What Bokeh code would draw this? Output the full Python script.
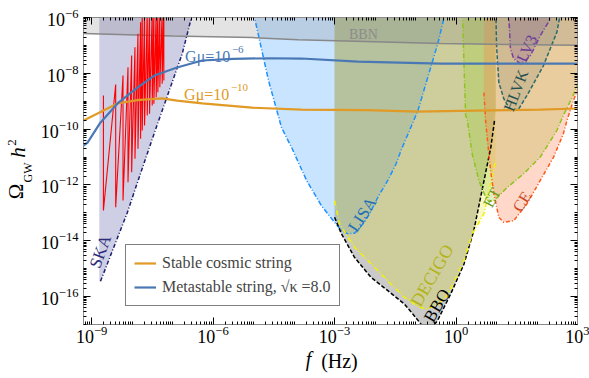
import numpy as np
from bokeh.plotting import figure
from bokeh.models import LogAxis, FixedTicker, Legend, LegendItem, Label
from bokeh.embed import file_html
from bokeh.resources import INLINE

SERIF = "Liberation Serif"

# ---------------- data (log10 of f [Hz] and log10 of Omega h^2) ----------------
x_lim = [-9.2, 3.0]
y_lim = [-17.0, -6.0]
x_labeled = [-9, -6, -3, 0, 3]
y_labeled = [-16, -14, -12, -10, -8, -6]

bbn_logf = [-9.3, -7.0, -5.04, -3.9, -0.38, 3.1]
bbn_logo = [-6.57, -6.66, -6.72, -6.80, -6.93, -7.0]

ska_edge_logf = -8.81
ska_logf = [-8.78, -8.12, -7.90, -7.43, -6.76, -6.50]
ska_logo = [-15.45, -13.00, -12.05, -10.05, -7.29, -5.80]

red_logf = [-8.708, -8.405, -8.224, -8.101, -8.011, -7.929, -7.855, -7.790,
            -7.749, -7.692, -7.626, -7.569, -7.503, -7.462, -7.405, -7.364,
            -7.315, -7.257, -7.216]
red_top = [-8.795, -8.40, -8.078, -7.78, -7.362, -7.063, -6.584, -6.168,
           -5.8, -5.8, -5.8, -5.8, -5.8, -5.8, -5.8, -5.8, -5.8, -5.8, -5.8]
red_bot = [-12.915, -12.797, -12.557, -11.901, -11.543, -11.063, -10.704, -10.346,
           -10.049, -9.870, -9.511, -9.452, -9.153, -9.093, -8.854, -8.676,
           -8.497, -8.377, -8.258]

lisa_logf = [-5.00, -4.63, -4.31, -4.06, -3.69, -3.325, -3.0, -2.83, -2.67, -2.506,
             -2.26, -2.096, -1.93, -1.686, -1.48, -1.36, -0.94, -0.45, -0.27]
lisa_logo = [-5.85, -8.26, -9.94, -10.66, -11.84, -12.74, -13.34, -13.63, -13.75, -13.73,
             -13.34, -12.92, -12.44, -11.84, -11.24, -10.77, -9.33, -6.93, -5.85]

bbo_edges = [-3.0, 0.98]
bbo_logf = [-3.0, -2.83, -2.51, -2.10, -1.69, -1.28, -1.07, -0.80, -0.60, -0.457,
            -0.13, 0.197, 0.44, 0.65, 0.86, 0.95]
bbo_logo = [-13.16, -13.75, -14.59, -15.31, -15.78, -16.26, -16.62, -17.10, -17.12, -16.86,
            -15.90, -14.83, -13.63, -12.14, -10.65, -9.70]

decigo_logf = [-3.0, -2.88, -2.51, -2.10, -1.69, -1.28, -0.95, -0.75, -0.45, -0.21,
               0.197, 0.40, 0.69, 0.975]
decigo_logo = [-12.56, -13.38, -14.23, -14.82, -15.43, -16.02, -16.35, -16.45, -16.30, -15.96,
               -14.71, -13.75, -13.04, -11.13]

et_logf = [0.16, 0.197, 0.238, 0.28, 0.40, 0.565, 0.73, 0.81, 0.94, 1.27, 1.67, 2.08,
           2.49, 2.65, 2.89, 2.99, 3.06]
et_logo = [-5.85, -7.72, -9.51, -9.69, -10.89, -11.84, -12.44, -12.59, -12.56, -12.08,
           -11.60, -11.00, -10.05, -9.51, -8.80, -8.44, -8.20]

ce_logf = [0.689, 0.73, 0.81, 0.853, 0.934, 1.057, 1.18, 1.425, 1.75, 2.08, 2.41, 2.65,
           2.74, 2.90, 2.98, 3.06]
ce_logo = [-8.69, -9.69, -10.89, -11.48, -12.31, -13.16, -13.34, -13.28, -12.68, -11.84,
           -11.00, -10.17, -9.69, -8.97, -8.68, -8.40]

hlvk_logf = [0.985, 1.0, 1.057, 1.18, 1.344, 1.55, 1.75, 2.16, 2.49, 2.58]
hlvk_logo = [-5.85, -7.0, -8.32, -8.91, -9.33, -9.27, -8.80, -7.72, -6.53, -5.85]

lv3_logf = [1.30, 1.344, 1.425, 1.597, 1.71, 1.84, 2.08, 2.33, 2.36]
lv3_logo = [-5.85, -7.12, -7.48, -7.66, -7.54, -7.36, -6.65, -6.05, -5.85]

meta_logf = [-9.2, -9.1, -8.8, -8.36, -7.87, -7.45, -6.89, -6.27, -5.5, -4.6, -3.82,
             -2.42, -0.38, 1.5, 3.0]
meta_logo = [-10.59, -10.48, -9.80, -9.08, -8.51, -8.08, -7.79, -7.54, -7.48, -7.46, -7.47,
             -7.58, -7.65, -7.65, -7.65]

stable_logf = [-9.2, -9.1, -8.36, -7.87, -7.26, -6.89, -6.27, -5.04, -3.82, -2.2, -0.94,
               0.85, 2.08, 3.0]
stable_logo = [-9.69, -9.62, -9.08, -8.96, -8.90, -8.98, -9.08, -9.23, -9.30, -9.32, -9.37,
               -9.33, -9.30, -9.26]

TOP = -5.8


def L(a):
    return [10.0 ** v for v in a]


# page-pixel helpers for text placement (frame spans x 81..577, y 17..324)
def fx(px):
    return 10.0 ** (x_lim[0] + (px - 81) / 496 * (x_lim[1] - x_lim[0]))


def fy(py):
    return 10.0 ** (y_lim[1] - (py - 17) / 307 * (y_lim[1] - y_lim[0]))


p = figure(x_axis_type="log", y_axis_type="log",
           x_range=(10 ** x_lim[0], 10 ** x_lim[1]), y_range=(10 ** y_lim[0], 10 ** y_lim[1]),
           width=589, height=378,
           min_border_left=81, min_border_right=12, min_border_top=17, min_border_bottom=54,
           output_backend="svg", toolbar_location=None)
p.grid.visible = False
p.outline_line_color = "#8a8a8a"
p.background_fill_color = "white"

# ---- regions ----
p.patch(L(lisa_logf), L(lisa_logo), fill_color="#1e90ff", fill_alpha=0.24, line_color=None)
p.patch(L([bbo_edges[0]] + bbo_logf + [bbo_edges[1], bbo_edges[1]]),
        L([TOP] + bbo_logo + [-9.3, TOP]), fill_color="#7a7a7a", fill_alpha=0.4, line_color=None)
p.patch(L([bbo_edges[0]] + decigo_logf + [bbo_edges[1], bbo_edges[1]]),
        L([TOP] + decigo_logo + [-10.8, TOP]), fill_color="#e0e000", fill_alpha=0.22, line_color=None)
p.patch(L(et_logf + [et_logf[-1]]), L(et_logo + [TOP]), fill_color="#9acd32", fill_alpha=0.3, line_color=None)
p.patch(L([ce_logf[0]] + ce_logf + [ce_logf[-1]]), L([TOP] + ce_logo + [TOP]),
        fill_color="#ff7f50", fill_alpha=0.3, line_color=None)
p.patch(L(hlvk_logf), L(hlvk_logo), fill_color="#2f4f4f", fill_alpha=0.14, line_color=None)
p.patch(L(lv3_logf), L(lv3_logo), fill_color="#7b3fa0", fill_alpha=0.2, line_color=None)
p.patch(L([ska_edge_logf, ska_edge_logf] + ska_logf + [ska_logf[-1]]),
        L([TOP, ska_logo[0]] + ska_logo + [TOP]), fill_color="#4b4ba0", fill_alpha=0.27, line_color=None)
p.patch(L(bbn_logf + [bbn_logf[-1], bbn_logf[0]]), L(bbn_logo + [TOP, TOP]),
        fill_color="#808080", fill_alpha=0.22, line_color=None)

# ---- boundaries ----
p.line(L(lisa_logf), L(lisa_logo), line_color="#1e90ff", line_width=1.5, line_dash="5 2 1 2")
p.line(L(bbo_logf), L(bbo_logo), line_color="black", line_width=1.5, line_dash="4 2")
p.line(L(decigo_logf), L(decigo_logo), line_color="#f2f200", line_width=1.5, line_dash="5 2 1 2")
p.line(L(et_logf), L(et_logo), line_color="#8fc31f", line_width=1.5, line_dash="5 2 1 2")
p.line(L(ce_logf), L(ce_logo), line_color="#ff5a1a", line_width=1.5, line_dash="4 2 1 2")
p.line(L(hlvk_logf), L(hlvk_logo), line_color="#2a6a6a", line_width=1.5, line_dash="4 2")
p.line(L(lv3_logf), L(lv3_logo), line_color="#7b3fa0", line_width=1.5, line_dash="5 2 1 2")
p.line(L(ska_logf), L(ska_logo), line_color="#202070", line_width=1.5, line_dash="4 2 1 2")
p.line(L(bbn_logf), L(bbn_logo), line_color="#888888", line_width=1.5)

# ---- PTA-like red data ----
rx, ry = [], []
for f0, t0, b0 in zip(red_logf, red_top, red_bot):
    rx += [f0, f0]
    ry += [t0, b0]
p.line(L(rx), L(ry), line_color="red", line_width=1.1)

# ---- string spectra ----
r_stable = p.line(L(stable_logf), L(stable_logo), line_color="#e09a25", line_width=2.2)
r_meta = p.line(L(meta_logf), L(meta_logo), line_color="#4a78b5", line_width=2.2)


def lab(text, px, py, color, size, angle_deg=0.0, align="center", baseline="middle", style="normal"):
    p.add_layout(Label(x=fx(px), y=fy(py), text=text, text_color=color, text_font=SERIF,
                       text_font_size=f"{size}px", angle=float(np.deg2rad(angle_deg)), text_align=align,
                       text_baseline=baseline, text_font_style=style))


lab("BBN", 362, 34, "#8c8c8c", 14)
lab("SKA", 98, 251, "#2b2b7a", 17, 70)
lab("LISA", 361, 214, "#1f6fb5", 17, 57)
lab("DECIGO", 431, 275, "#b3b31a", 18, 60)
lab("BBO", 436, 305, "black", 17, 60)
lab("ET", 491, 197, "#6f9a20", 16, 62)
lab("CE", 521, 201, "#c8481e", 16, 58)
lab("HLVK", 515, 90, "#1f4f4f", 16, 69)
lab("LV3", 526, 48, "#6a3d9a", 16, 65)

lab("G\u03bc=10", 183, 56, "#4a78b5", 16, align="left", baseline="alphabetic")
lab("\u22126", 230, 49, "#4a78b5", 11, align="left", baseline="alphabetic")
lab("G\u03bc=10", 182, 94, "#e09a25", 16, align="left", baseline="alphabetic")
lab("\u221210", 229, 87, "#e09a25", 11, align="left", baseline="alphabetic")

# ---- axes ----
x_major = [10.0 ** k for k in x_labeled]
x_minor = [m * 10.0 ** k for k in range(-10, 3) for m in range(1, 10) if not (m == 1 and k in x_labeled)]
y_major = [10.0 ** k for k in y_labeled]
y_minor = [m * 10.0 ** k for k in range(-18, -6) for m in range(1, 10) if not (m == 1 and k in y_labeled)]


def style_axis(ax, major, minor, show, standoff=5):
    ax.ticker = FixedTicker(ticks=major, minor_ticks=minor)
    ax.major_tick_in = 7
    ax.major_tick_out = 0
    ax.minor_tick_in = 3
    ax.minor_tick_out = 0
    ax.axis_line_color = "#8a8a8a"
    ax.major_tick_line_color = "black"
    ax.minor_tick_line_color = "black"
    ax.major_label_text_font = SERIF
    ax.major_label_text_color = "black"
    if show:
        ax.major_label_text_font_size = "18px"
        ax.major_label_standoff = standoff
    else:
        ax.major_label_text_font_size = "2px"
        ax.major_label_text_alpha = 0.0
        ax.major_label_standoff = 0


style_axis(p.xaxis[0], x_major, x_minor, True, standoff=1)
style_axis(p.yaxis[0], y_major, y_minor, True, standoff=5)
top_ax = LogAxis()
right_ax = LogAxis()
style_axis(top_ax, x_major, x_minor, False)
style_axis(right_ax, y_major, y_minor, False)
p.add_layout(top_ax, "above")
p.add_layout(right_ax, "right")


# axis titles, composed of pieces drawn as tick labels of invisible stacked axes
def title_piece(side, pos, text, size, standoff, style="normal"):
    ax = LogAxis(ticker=FixedTicker(ticks=[pos], minor_ticks=[]),
                 major_label_overrides={pos: text}, major_label_text_font=SERIF,
                 major_label_text_font_size=f"{size}px", major_label_text_font_style=style,
                 major_label_text_color="black", major_label_standoff=standoff,
                 major_label_orientation="vertical" if side == "left" else "horizontal",
                 axis_line_color=None, major_tick_line_color=None, minor_tick_line_color=None,
                 major_tick_in=0, major_tick_out=0, minor_tick_in=0, minor_tick_out=0)
    p.add_layout(ax, side)


title_piece("left", fy(172), "GW", 12, 3)
title_piece("left", fy(191), "\u03a9", 21, -10)
title_piece("left", fy(152), "h", 21, -29, "italic")
title_piece("left", fy(142), "2", 13, -15)
title_piece("below", fx(307), "f", 20, 2, "italic")
title_piece("below", fx(338), "(Hz)", 20, -23)

legend = Legend(items=[LegendItem(label="Stable cosmic string", renderers=[r_stable]),
                       LegendItem(label="Metastable string, \u221a\u03ba =8.0", renderers=[r_meta])],
                location=(42, 18), label_text_font=SERIF, label_text_font_size="16px",
                glyph_width=22, glyph_height=20, label_height=20, label_standoff=6,
                spacing=4, padding=8, margin=0, border_line_color="black", border_line_width=1,
                background_fill_alpha=1.0)
p.add_layout(legend, "center")

open("out.html", "w").write(file_html(p, INLINE))
